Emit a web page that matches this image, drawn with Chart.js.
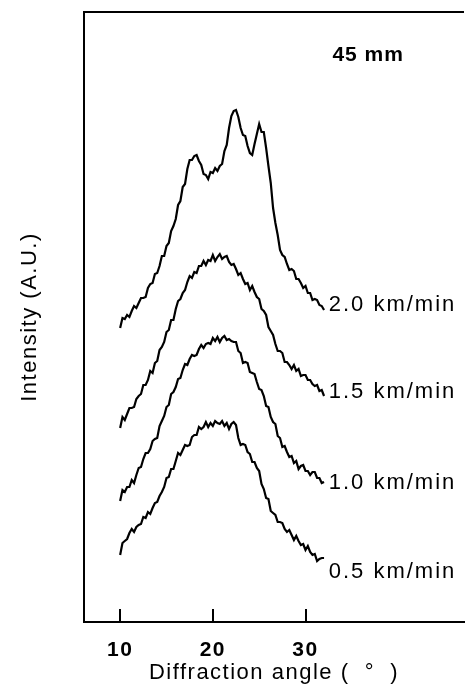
<!DOCTYPE html>
<html>
<head>
<meta charset="utf-8">
<script src="https://cdn.jsdelivr.net/npm/chart.js@4"></script>
<style>
html, body { margin: 0; padding: 0; background: #fff; }
</style>
</head>
<body>
<canvas id="xrdChart" width="466" height="692"></canvas>
<script>
// Diffraction angle (deg), one reading every 0.25 deg
var angles = [10, 10.25, 10.5, 10.75, 11, 11.25, 11.5, 11.75, 12, 12.25, 12.5, 12.75,
    13, 13.25, 13.5, 13.75, 14, 14.25, 14.5, 14.75, 15, 15.25, 15.5, 15.75,
    16, 16.25, 16.5, 16.75, 17, 17.25, 17.5, 17.75, 18, 18.25, 18.5, 18.75,
    19, 19.25, 19.5, 19.75, 20, 20.25, 20.5, 20.75, 21, 21.25, 21.5, 21.75,
    22, 22.25, 22.5, 22.75, 23, 23.25, 23.5, 23.75, 24, 24.25, 24.5, 24.75,
    25, 25.25, 25.5, 25.75, 26, 26.25, 26.5, 26.75, 27, 27.25, 27.5, 27.75,
    28, 28.25, 28.5, 28.75, 29, 29.25, 29.5, 29.75, 30, 30.25, 30.5, 30.75,
    31, 31.25, 31.5, 31.75, 32];

// Intensity (A.U.), curves already stacked with their offsets
var speed20 = [294, 304, 303, 307, 305, 311, 316, 314, 319, 324, 324, 325,
    334, 338, 339, 348, 349, 356, 366, 366, 376, 379, 391, 396,
    403, 417, 421, 435, 438, 453, 462, 462, 466, 467, 461, 457,
    448, 447, 443, 450, 449, 454, 451, 456, 458, 471, 477, 494,
    506, 511, 512, 505, 494, 487, 486, 476, 469, 467, 478, 488,
    498, 490, 490, 474, 456, 439, 414, 399, 387, 372, 367, 365,
    358, 352, 353, 351, 343, 343, 339, 334, 336, 329, 329, 322,
    323, 322, 317, 316, 312];

var speed15 = [194, 205, 202, 208, 214, 214, 215, 223, 226, 228, 237, 237,
    242, 251, 249, 259, 261, 272, 275, 280, 290, 292, 302, 302,
    313, 321, 323, 329, 332, 340, 346, 344, 350, 349, 356, 356,
    361, 357, 362, 361, 367, 361, 365, 368, 363, 365, 366, 360,
    357, 358, 353, 347, 349, 343, 338, 339, 332, 336, 330, 325,
    323, 313, 311, 307, 295, 291, 287, 278, 271, 271, 269, 260,
    260, 257, 253, 257, 251, 253, 246, 247, 247, 242, 242, 238,
    236, 237, 231, 232, 226];

var speed10 = [121, 132, 130, 135, 135, 142, 139, 147, 154, 155, 163, 169,
    169, 173, 181, 183, 184, 196, 201, 206, 215, 217, 228, 230,
    235, 243, 244, 252, 258, 257, 263, 267, 266, 267, 273, 277,
    274, 278, 279, 278, 284, 281, 285, 280, 284, 286, 282, 283,
    281, 280, 280, 271, 269, 259, 260, 259, 250, 249, 248, 240,
    233, 232, 226, 216, 215, 205, 200, 198, 186, 184, 175, 176,
    170, 165, 166, 159, 161, 153, 156, 157, 151, 151, 147, 150,
    150, 144, 144, 139, 140];

var speed05 = [67, 79, 81, 83, 89, 93, 90, 95, 97, 98, 105, 104,
    110, 108, 114, 119, 120, 126, 130, 135, 144, 145, 153, 153,
    161, 169, 167, 172, 177, 176, 177, 185, 187, 187, 195, 193,
    195, 200, 195, 199, 196, 201, 199, 198, 201, 196, 199, 193,
    198, 200, 197, 184, 177, 178, 177, 170, 168, 160, 160, 154,
    151, 138, 133, 124, 123, 111, 109, 107, 100, 100, 99, 93,
    90, 92, 87, 82, 86, 81, 77, 78, 72, 76, 70, 67,
    68, 61, 63, 64, 64];

var seriesLabels = ['2.0 km/min', '1.5 km/min', '1.0 km/min', '0.5 km/min'];
var labelAngle = 32.5;
var labelLevels = [317, 230, 139, 50];

var tickAngles = [10, 20, 30];
var noteText = '45 mm';
var noteAngle = 32.9;
var noteLevel = 567;

function buildPoints(values) {
    return values.map(function(v, i) {
        return { x: angles[i], y: v };
    });
}

function lineSet(values) {
    return {
        data: buildPoints(values),
        borderColor: '#000',
        borderWidth: 2.2,
        pointRadius: 0,
        tension: 0,
        fill: false
    };
}

// Frame top edge, inward x ticks and the text notes
var framePlugin = {
    id: 'frame',
    beforeDraw: function(chart) {
        chart.ctx.letterSpacing = '1.5px';
    },
    afterDraw: function(chart) {
        var ctx = chart.ctx;
        var area = chart.chartArea;
        var xs = chart.scales.x;
        var ys = chart.scales.y;
        ctx.save();
        ctx.strokeStyle = '#000';
        ctx.lineWidth = 2;
        ctx.beginPath();
        ctx.moveTo(area.left - 1, area.top);
        ctx.lineTo(area.right, area.top);
        ctx.stroke();
        tickAngles.forEach(function(a) {
            var px = Math.round(xs.getPixelForValue(a));
            ctx.beginPath();
            ctx.moveTo(px, area.bottom);
            ctx.lineTo(px, area.bottom - 13);
            ctx.stroke();
        });

        ctx.fillStyle = '#000';
        ctx.textAlign = 'left';
        ctx.textBaseline = 'middle';
        ctx.font = '22px "Liberation Sans"';
        ctx.letterSpacing = '2px';
        seriesLabels.forEach(function(label, i) {
            ctx.fillText(label, xs.getPixelForValue(labelAngle), ys.getPixelForValue(labelLevels[i]));
        });
        ctx.font = 'bold 21px "Liberation Sans"';
        ctx.letterSpacing = '1px';
        ctx.fillText(noteText, xs.getPixelForValue(noteAngle), ys.getPixelForValue(noteLevel));
        ctx.restore();
    }
};

var ctx = document.getElementById('xrdChart').getContext('2d');
var xrdChart = new Chart(ctx, {
    type: 'line',
    data: {
        datasets: [lineSet(speed20), lineSet(speed15), lineSet(speed10), lineSet(speed05)]
    },
    options: {
        responsive: false,
        animation: false,
        devicePixelRatio: 1,
        layout: { padding: { top: 12, right: 2, left: 0, bottom: 0 } },
        plugins: {
            legend: { display: false },
            tooltip: { enabled: false }
        },
        scales: {
            x: {
                type: 'linear',
                min: 6.1,
                max: 47.1,
                afterBuildTicks: function(scale) {
                    scale.ticks = tickAngles.map(function(v) { return { value: v }; });
                },
                afterFit: function(scale) { scale.height = 70; },
                grid: { display: false },
                border: { display: true, color: '#000', width: 2 },
                ticks: {
                    autoSkip: false,
                    maxRotation: 0,
                    padding: 8,
                    color: '#000',
                    font: { family: 'Liberation Sans', size: 21, weight: 'bold' }
                },
                title: {
                    display: true,
                    text: 'Diffraction angle (  °  )',
                    color: '#000',
                    font: { family: 'Liberation Sans', size: 22 },
                    padding: { top: 0, bottom: 6 }
                }
            },
            y: {
                min: 0,
                max: 610,
                afterFit: function(scale) { scale.width = 84; },
                grid: { display: false },
                border: { display: true, color: '#000', width: 2 },
                ticks: { display: false },
                title: {
                    display: true,
                    text: 'Intensity (A.U.)',
                    color: '#000',
                    font: { family: 'Liberation Sans', size: 22 },
                    padding: { top: 17, bottom: 0 }
                }
            }
        }
    },
    plugins: [framePlugin]
});
</script>
</body>
</html>
